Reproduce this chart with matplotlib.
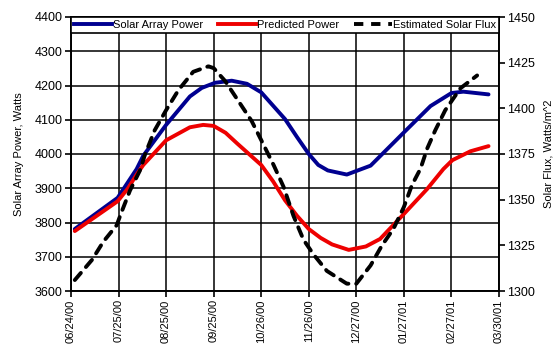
import matplotlib
matplotlib.use("Agg")
import matplotlib.pyplot as plt
from matplotlib.lines import Line2D

plt.rcParams['font.family'] = ['Liberation Sans', 'DejaVu Sans']

date_labels = ["06/24/00", "07/25/00", "08/25/00", "09/25/00", "10/26/00",
               "11/26/00", "12/27/00", "01/27/01", "02/27/01", "03/30/01"]

# x in units of tick intervals (each ~31 days)
solar_x = [0.08, 0.98, 1.38, 1.52, 2.0, 2.5, 2.75, 3.03, 3.38, 3.7, 4.0, 4.5, 4.75,
           5.0, 5.2, 5.4, 5.8, 6.3, 7.0, 7.56, 8.0, 8.25, 8.78]
solar_w = [3781, 3872, 3956, 3995, 4085, 4168, 4193, 4208, 4214, 4205, 4180, 4102, 4050,
           4000, 3968, 3952, 3940, 3966, 4063, 4140, 4178, 4182, 4174]

pred_x = [0.08, 0.98, 1.2, 1.38, 1.52, 2.0, 2.5, 2.78, 3.0, 3.25, 3.5, 4.0, 4.25, 4.5,
          4.75, 5.0, 5.25, 5.49, 5.84, 6.2, 6.5, 7.0, 7.49, 7.83, 8.02, 8.4, 8.78]
pred_w = [3775, 3862, 3900, 3940, 3968, 4040, 4078, 4085, 4082, 4062, 4030, 3968, 3920, 3865,
          3820, 3781, 3755, 3736, 3720, 3730, 3752, 3825, 3898, 3956, 3982, 4008, 4023]

flux_x = [0.08, 0.44, 0.68, 0.96, 1.06, 1.24, 1.45, 1.56, 1.76, 2.0, 2.26, 2.57,
          2.89, 3.0, 3.24, 3.52, 3.8, 4.05, 4.26, 4.47, 4.68, 4.89, 5.1, 5.38,
          5.8, 6.0, 6.3, 6.54, 6.78, 7.0, 7.17, 7.35, 7.49, 7.66, 7.87, 8.19, 8.54]
flux_v = [1306, 1317, 1327, 1336, 1343, 1355, 1366, 1375, 1388, 1399, 1410, 1420,
          1423, 1422, 1415, 1404, 1393, 1380, 1369, 1357, 1341, 1328, 1320, 1311,
          1304, 1304, 1314, 1325, 1334, 1346, 1358, 1367, 1378, 1388, 1399, 1411, 1418]

fig = plt.figure(figsize=(5.57, 3.52), dpi=100)
ax = fig.add_axes([71/557, 1-291/352, 428/557, 274/352])
ax2 = ax.twinx()

blue = '#000090'
red = '#ee0000'
ax.plot(solar_x, solar_w, color=blue, lw=2.8, solid_capstyle='round',
        solid_joinstyle='round', zorder=3)
ax.plot(pred_x, pred_w, color=red, lw=2.8, solid_capstyle='round',
        solid_joinstyle='round', zorder=4)
ax2.plot(flux_x, flux_v, color='black', lw=2.8, dashes=(2.4, 2.0),
         dash_capstyle='round', dash_joinstyle='round')

ax.set_xlim(0, 9)
ax.set_ylim(3600, 4400)
ax.set_yticks(range(3600, 4401, 100))
ax.set_xticks(range(10))
ax.set_xticklabels(date_labels, rotation=90, fontsize=8)
ax.grid(True, color='black', lw=1.1)
ax.set_axisbelow(True)
ax2.set_ylim(1300, 1450)
ax2.set_yticks(range(1300, 1451, 25))

for a in (ax, ax2):
    for s in a.spines.values():
        s.set_linewidth(1.2)
    a.tick_params(width=1.2, length=4, labelsize=9, pad=2)
ax.tick_params(axis='x', labelsize=8)

ax.set_ylabel('Solar Array Power, Watts', fontsize=8)
ax.yaxis.set_label_coords(-0.11, 0.5)
ax2.set_ylabel('Solar Flux, Watts/m^2', fontsize=8)
ax2.yaxis.set_label_coords(1.105, 0.5)

handles = [Line2D([], [], color=blue, lw=2.8),
           Line2D([], [], color=red, lw=2.8),
           Line2D([], [], color='black', lw=2.8, dashes=(2.4, 2.0))]
leg = ax2.legend(handles, ['Solar Array Power', 'Predicted Power', 'Estimated Solar Flux'],
                 loc='upper left', bbox_to_anchor=(0, 0, 1, 1), mode='expand', ncol=3,
                 borderaxespad=0, fancybox=False, edgecolor='black', framealpha=1,
                 handlelength=3.4, handletextpad=0.1, columnspacing=0.3,
                 borderpad=0.25, fontsize=8)
leg.get_frame().set_linewidth(1.2)

fig.savefig('out.png', dpi=100)
